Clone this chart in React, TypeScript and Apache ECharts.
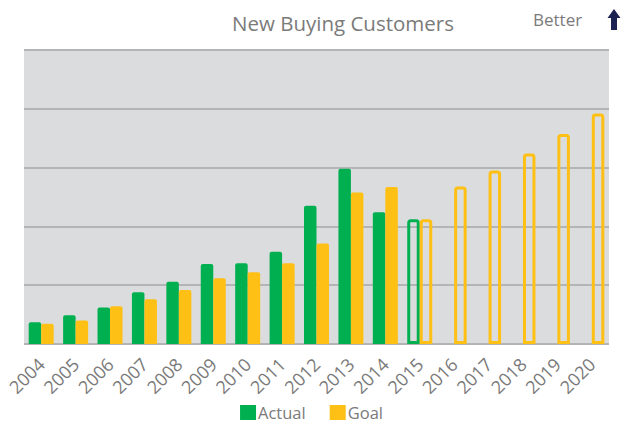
import React, { useEffect, useRef } from "react";
import * as echarts from "echarts";

const years = ["2004","2005","2006","2007","2008","2009","2010","2011","2012","2013","2014","2015","2016","2017","2018","2019","2020"];
const actualValues: (number | null)[] = [3.7, 4.9, 6.2, 8.8, 10.6, 13.6, 13.75, 15.7, 23.5, 29.8, 22.4, 21.2, null, null, null, null, null];
const goalValues: number[] = [3.45, 4.0, 6.4, 7.6, 9.2, 11.2, 12.2, 13.75, 17.1, 25.75, 26.7, 21.2, 26.8, 29.5, 32.4, 35.7, 39.2];
const projectedFromIndex = 11; // 2015 onward drawn as outlines

const GREEN = "#00b050";
const GOLD = "#fec014";
const TEXT = "#7a7a7a";

function buildData(values: (number | null)[], color: string) {
  return values.map((v, i) =>
    i >= projectedFromIndex
      ? { value: v, itemStyle: { color: "rgba(0,0,0,0)", borderColor: color, borderWidth: 3, borderRadius: [2, 2, 0, 0] } }
      : { value: v }
  );
}

export default function App() {
  const ref = useRef<HTMLDivElement>(null);
  useEffect(() => {
    if (!ref.current) return;
    const chart = echarts.init(ref.current, undefined, { renderer: "svg" });
    chart.setOption({
      animation: false,
      textStyle: { fontFamily: "Open Sans" },
      grid: {
        left: 24,
        right: 14,
        top: 50,
        bottom: 80,
        show: true,
        backgroundColor: "#dbdcde",
        borderWidth: 0,
      },
      legend: {
        top: 404,
        left: "center",
        icon: "rect",
        itemWidth: 16,
        itemHeight: 15,
        itemGap: 24,
        padding: 0,
        textStyle: { fontSize: 16.5, lineHeight: 15, color: TEXT, fontFamily: "Open Sans", padding: [0, 0, 0, -3] },
        data: ["Actual", "Goal"],
      },
      xAxis: {
        type: "category",
        data: years,
        axisLine: { show: false },
        axisTick: { show: false },
        axisLabel: { rotate: 45, fontSize: 18, color: TEXT, margin: 17, interval: 0, fontFamily: "Open Sans" },
      },
      yAxis: {
        type: "value",
        min: 0,
        max: 50,
        interval: 10,
        axisLabel: { show: false },
        axisLine: { show: false },
        axisTick: { show: false },
        splitLine: { lineStyle: { color: "#b3b4b6", width: 2 } },
      },
      graphic: [
        {
          type: "text",
          x: 343,
          y: 23,
          style: { text: "New Buying Customers", fill: TEXT, fontSize: 20.5, fontFamily: "Open Sans", textAlign: "center", textVerticalAlign: "middle" },
        },
        {
          type: "text",
          x: 533,
          y: 19,
          style: { text: "Better", fill: TEXT, fontSize: 17, fontFamily: "Open Sans", textAlign: "left", textVerticalAlign: "middle" },
        },
        {
          type: "polygon",
          shape: { points: [[614, 9], [620.5, 18], [617, 18], [617, 30], [611, 30], [611, 18], [607.5, 18]] },
          style: { fill: "#1c2352" },
        },
      ],
      series: [
        {
          name: "Actual",
          type: "bar",
          barWidth: 12.5,
          barGap: "0%",
          itemStyle: { color: GREEN, borderRadius: [2, 2, 0, 0] },
          data: buildData(actualValues, GREEN),
        },
        {
          name: "Goal",
          type: "bar",
          barWidth: 12.5,
          barGap: "0%",
          itemStyle: { color: GOLD, borderRadius: [2, 2, 0, 0] },
          data: buildData(goalValues, GOLD),
        },
      ],
    });
    return () => chart.dispose();
  }, []);
  return <div ref={ref} style={{ width: 623, height: 424, position: "absolute", left: 0, top: 0 }} />;
}
